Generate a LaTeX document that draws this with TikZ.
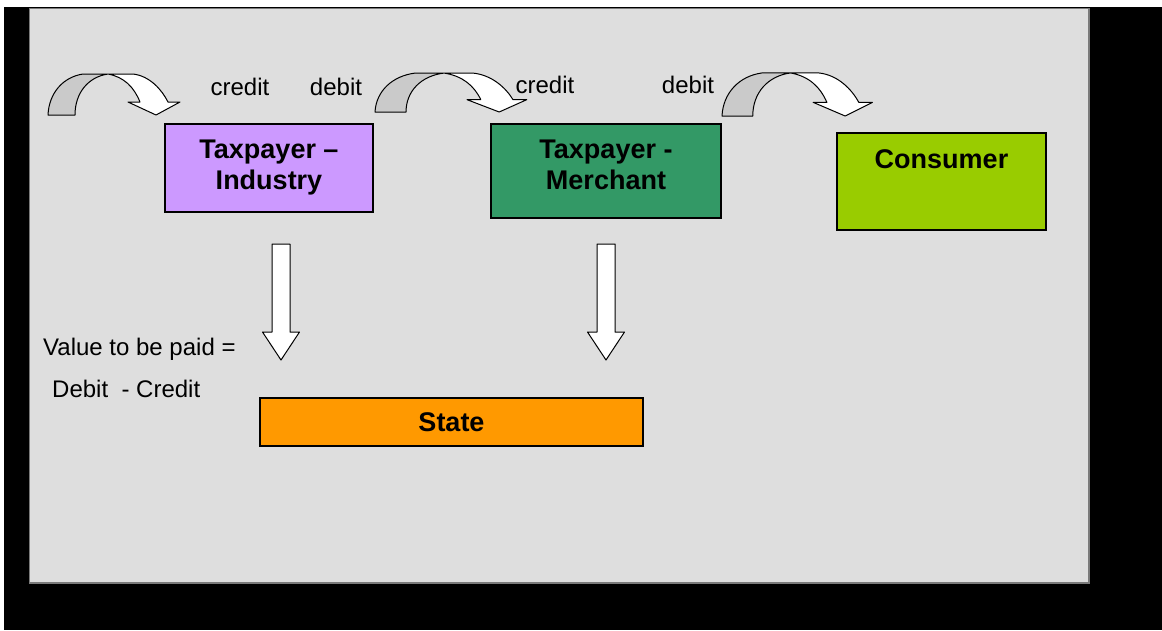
\documentclass[tikz,border=0pt]{standalone}
\usepackage{fontspec}
\setmainfont{Liberation Sans}
\definecolor{panelgray}{HTML}{DEDEDE}
\definecolor{panelline}{HTML}{7A7A7A}
\definecolor{ribbongray}{HTML}{CACACA}
\definecolor{industry}{HTML}{CC99FF}
\definecolor{merchant}{HTML}{339966}
\definecolor{consumer}{HTML}{99CC00}
\definecolor{statefill}{HTML}{FF9900}
\tikzset{
  flowbox/.style={draw=black, line width=1.3pt, inner sep=0pt},
  boxlbl/.style={inner sep=0pt, align=center, font=\fontsize{27}{31}\selectfont\bfseries},
  txt/.style={inner sep=0pt, font=\fontsize{24}{28}\selectfont},
  outline/.style={draw=black, line width=1pt, line join=round},
  % curved block arrow: grey back leg, white front leg with head
  curvedarrow/.pic={
    \fill[ribbongray] (0,0) .. controls (1,-22) and (15,-38) .. (35,-41)
      -- (60,-41) .. controls (40,-38) and (27,-22) .. (27,0) -- cycle;
    \fill[white] (60,-41) -- (85,-41) .. controls (102,-39) and (114,-25) .. (120,-13)
      -- (132,-13) -- (108,0) -- (80,-13) -- (92,-13)
      .. controls (86,-28) and (76,-38) .. (60,-41) -- cycle;
    \draw[outline] (0,0) .. controls (1,-22) and (15,-38) .. (35,-41)
      -- (85,-41) .. controls (102,-39) and (114,-25) .. (120,-13)
      -- (132,-13) -- (108,0) -- (80,-13) -- (92,-13)
      .. controls (86,-28) and (76,-38) .. (60,-41)
      .. controls (40,-38) and (27,-22) .. (27,0) -- cycle;
  },
  % straight downward block arrow
  downblock/.pic={
    \draw[outline, fill=white] (-9,0) -- (9,0) -- (9,88) -- (18.5,88) -- (0,116)
      -- (-18.5,88) -- (-9,88) -- cycle;
  }
}
\begin{document}
\begin{tikzpicture}[x=1pt, y=-1pt]
\useasboundingbox (0,0) rectangle (1162,630);
\fill[white] (0,0) rectangle (1162,630);
\fill[black] (4,7) rectangle (1162,630);
\filldraw[fill=panelgray, draw=panelline, line width=1.5pt] (29.5,8.5) rectangle (1089,583);

% flow boxes
\node[flowbox, fill=industry, minimum width=208pt, minimum height=88pt] (ind) at (269,168) {};
\node[flowbox, fill=merchant, minimum width=230pt, minimum height=94pt] (mer) at (606,171) {};
\node[flowbox, fill=consumer, minimum width=209pt, minimum height=97pt] (con) at (941.5,181.5) {};
\node[flowbox, fill=statefill, minimum width=383pt, minimum height=48pt] (sta) at (451.5,422) {};

\node[boxlbl, anchor=north] (indlbl) at ([yshift=-16pt]ind.north) {Taxpayer –\\Industry};
\node[boxlbl, anchor=north] (merlbl) at ([yshift=-16pt]mer.north) {Taxpayer -\\Merchant};
\node[boxlbl, anchor=north] (conlbl) at ([yshift=-17pt]con.north) {Consumer};
\node[boxlbl] (stalbl) at (sta.center) {State};

% credit / debit flows
\pic at (48,115) {curvedarrow};
\pic[xscale=1.15, yscale=0.95] at (375,112) {curvedarrow};
\pic[xscale=1.14, yscale=1.05] at (722,116) {curvedarrow};

\node[txt, anchor=base] (cr1) at (240,95) {credit};
\node[txt, anchor=base] (db1) at (336,95) {debit};
\node[txt, anchor=base] (cr2) at (545,93) {credit};
\node[txt, anchor=base] (db2) at (688,93) {debit};

% payments to the state
\pic at (281,244) {downblock};
\pic at (606,244) {downblock};

\node[txt, anchor=base west] (val1) at (43,355) {Value to be paid =};
\node[txt, anchor=base west] (val2) at (52,397) {Debit\ \ - Credit};
\end{tikzpicture}
\end{document}
